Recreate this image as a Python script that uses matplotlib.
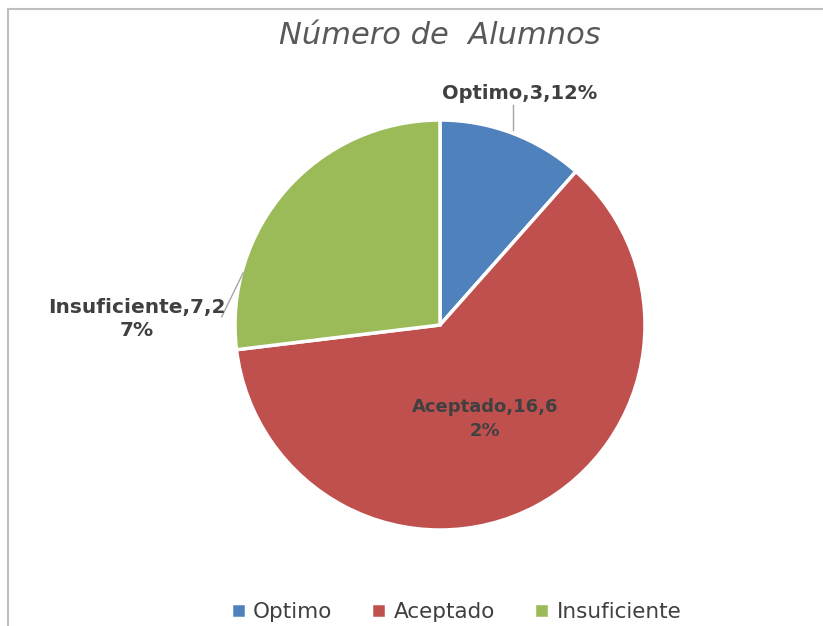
import matplotlib
matplotlib.use("Agg")
from matplotlib import pyplot as plt
from matplotlib.patches import Rectangle

categorias = ["Optimo", "Aceptado", "Insuficiente"]
alumnos = [3, 16, 7]
porcentajes = ["12%", "62%", "27%"]
colores = ["#4F81BD", "#C0504D", "#9BBB59"]
titulo = "Número de  Alumnos"

plt.rcParams['font.family'] = ['DejaVu Sans']

fig = plt.figure(figsize=(8.23, 6.26), dpi=100)
# marco del grafico
fig.patches.append(Rectangle((8 / 823, -0.05), 1.1, 1 - 9 / 626 + 0.05,
                             transform=fig.transFigure, fill=False,
                             edgecolor="#BFBFBF", linewidth=1.5))

ax = fig.add_axes([235 / 823, 96 / 626, 410 / 823, 410 / 626])
wedges, _ = ax.pie(alumnos, colors=colores, startangle=90, counterclock=False,
                   radius=1, wedgeprops=dict(edgecolor="white", linewidth=2.5))
ax.set_xlim(-1, 1)
ax.set_ylim(-1, 1)
ax.set_aspect("auto")

gris = "#404040"
ax.text(0.39, 1.13, f"{categorias[0]},{alumnos[0]},{porcentajes[0]}",
        ha="center", va="center", fontsize=14, color=gris, fontweight="bold")
ax.plot([0.356, 0.356], [1.075, 0.95], color="#A6A6A6", lw=1, clip_on=False)

ax.text(0.22, -0.46, f"{categorias[1]},{alumnos[1]},6\n2%",
        ha="center", va="center", fontsize=13, color=gris, fontweight="bold",
        linespacing=1.4)

ax.text(-1.48, 0.03, f"{categorias[2]},{alumnos[2]},2\n7%",
        ha="center", va="center", fontsize=14.5, color=gris, fontweight="bold",
        linespacing=1.3)
ax.plot([-1.065, -0.96], [0.04, 0.255], color="#A6A6A6", lw=1, clip_on=False)

fig.text(440 / 823, 1 - 35 / 626, titulo, ha="center", va="center",
         fontsize=22, style="italic", color="#595959")

fig.legend(wedges, categorias, loc="center", bbox_to_anchor=(456 / 823, 1 - 612 / 626),
           ncol=3, frameon=False, fontsize=15.5, handlelength=0.7, handleheight=0.7,
           handletextpad=0.35, columnspacing=1.8, labelcolor=gris)

fig.savefig("out.png", dpi=100)
